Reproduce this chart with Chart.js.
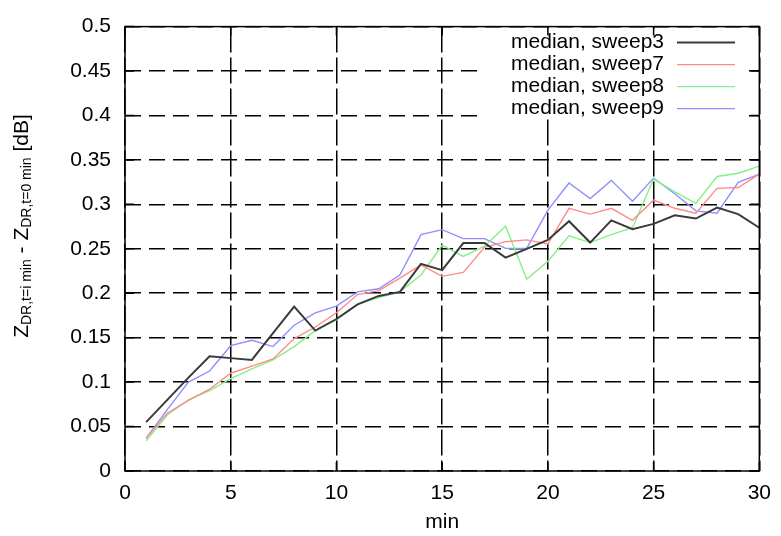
<!DOCTYPE html>
<html>
<head>
<meta charset="utf-8">
<script src="https://cdn.jsdelivr.net/npm/chart.js@4/dist/chart.umd.min.js"></script>
<style>
  html, body { margin: 0; padding: 0; background: #fff; }
  #wrap { width: 781px; height: 536px; }
</style>
</head>
<body>
<div id="wrap"><canvas id="c" width="781" height="536"></canvas></div>
<script>
// Minutes after the reference time
const minutes = [1,2,3,4,5,6,7,8,9,10,11,12,13,14,15,16,17,18,19,20,21,22,23,24,25,26,27,28,29,30];

// Median ZDR change per sweep (dB)
const sweep3 = [0.055,0.080,0.105,0.129,0.127,0.125,0.155,0.185,0.158,0.171,0.1875,0.197,0.2015,0.233,0.226,0.2565,0.2565,0.240,0.250,0.260,0.281,0.257,0.282,0.272,0.278,0.2876,0.284,0.2964,0.289,0.2737];
const sweep7 = [0.037,0.065,0.0795,0.092,0.110,0.118,0.126,0.149,0.162,0.178,0.1985,0.203,0.217,0.232,0.219,0.2235,0.2517,0.258,0.260,0.2555,0.2956,0.289,0.2956,0.282,0.3047,0.2956,0.290,0.318,0.319,0.334];
const sweep8 = [0.034,0.063,0.080,0.0905,0.104,0.115,0.125,0.140,0.158,0.170,0.1875,0.195,0.2015,0.2205,0.254,0.2415,0.253,0.2755,0.216,0.236,0.2646,0.257,0.266,0.2737,0.3285,0.314,0.301,0.3314,0.335,0.343];
const sweep9 = [0.037,0.069,0.100,0.1125,0.141,0.147,0.140,0.164,0.178,0.1855,0.2015,0.205,0.2205,0.266,0.2715,0.2615,0.2615,0.2505,0.2505,0.2935,0.324,0.3066,0.327,0.3036,0.3295,0.312,0.2927,0.290,0.3248,0.334];

const seriesNames = ['median, sweep3','median, sweep7','median, sweep8','median, sweep9'];

// Axis ticks
const xTicks = [0,5,10,15,20,25,30];
const yTicks = [0,0.05,0.1,0.15,0.2,0.25,0.3,0.35,0.4,0.45,0.5];

const FONT = '"Liberation Sans", Arial, sans-serif';
const FS = 21;
const colors = ['#3a3a3a', '#ff8a8a', '#88ee88', '#8f8fff'];
const widths = [2, 1.4, 1.4, 1.4];

const toPoints = arr => minutes.map((m, i) => ({ x: m, y: arr[i] }));

// Frame, inward ticks, in-plot key and rotated y title with subscripts
const framePlugin = {
  id: 'frame',
  beforeDatasetsDraw(chart) {
    const { ctx, chartArea: a, scales } = chart;
    ctx.save();
    // key background hides the grid behind it
    const keyRight = a.right - 16;
    ctx.fillStyle = '#fff';
    ctx.fillRect(483, a.top + 2, keyRight - 483, 90);
    // inward tick marks on all four sides
    ctx.strokeStyle = '#000';
    ctx.lineWidth = 1.5;
    ctx.beginPath();
    xTicks.forEach(v => {
      const px = scales.x.getPixelForValue(v);
      ctx.moveTo(px, a.top); ctx.lineTo(px, a.top + 9);
      ctx.moveTo(px, a.bottom); ctx.lineTo(px, a.bottom - 9);
    });
    yTicks.forEach(v => {
      const py = scales.y.getPixelForValue(v);
      ctx.moveTo(a.left, py); ctx.lineTo(a.left + 9, py);
      ctx.moveTo(a.right, py); ctx.lineTo(a.right - 9, py);
    });
    ctx.stroke();
    // key entries: text right-aligned, line sample on the right
    ctx.font = FS + 'px ' + FONT;
    ctx.textAlign = 'right';
    ctx.textBaseline = 'middle';
    seriesNames.forEach((name, i) => {
      const y = a.top + 16 + i * 22;
      ctx.fillStyle = '#000';
      ctx.fillText(name, 664, y);
      ctx.strokeStyle = colors[i];
      ctx.lineWidth = widths[i];
      ctx.beginPath();
      ctx.moveTo(677, y); ctx.lineTo(735, y);
      ctx.stroke();
    });
    ctx.restore();
  },
  afterDraw(chart) {
    const { ctx, chartArea: a } = chart;
    ctx.save();
    ctx.strokeStyle = '#000';
    ctx.lineWidth = 1.5;
    ctx.strokeRect(a.left, a.top, a.right - a.left, a.bottom - a.top);
    // x title
    ctx.fillStyle = '#000';
    ctx.font = FS + 'px ' + FONT;
    ctx.textAlign = 'center';
    ctx.textBaseline = 'middle';
    ctx.fillText('min', (a.left + a.right) / 2, 522);
    // y title with subscripts, rotated
    const parts = [
      ['Z', FS, 0], ['DR,t=i min', 14, 5], [' - Z', FS, 0], ['DR,t=0 min', 14, 5], [' [dB]', FS, 0]
    ];
    let total = 0;
    parts.forEach(p => { ctx.font = p[1] + 'px ' + FONT; total += ctx.measureText(p[0]).width; });
    ctx.translate(22, 226);
    ctx.rotate(-Math.PI / 2);
    ctx.textAlign = 'left';
    let x = -total / 2;
    parts.forEach(p => {
      ctx.font = p[1] + 'px ' + FONT;
      ctx.fillText(p[0], x, p[2]);
      x += ctx.measureText(p[0]).width;
    });
    ctx.restore();
  }
};

new Chart(document.getElementById('c'), {
  type: 'line',
  data: {
    datasets: [sweep3, sweep7, sweep8, sweep9].map((arr, i) => ({
      label: seriesNames[i],
      data: toPoints(arr),
      borderColor: colors[i],
      borderWidth: widths[i],
      pointRadius: 0,
      tension: 0,
      fill: false
    }))
  },
  options: {
    responsive: false,
    animation: false,
    devicePixelRatio: 1,
    layout: { padding: { left: 0, right: 19, top: 16, bottom: 0 } },
    plugins: { legend: { display: false }, tooltip: { enabled: false } },
    scales: {
      x: {
        type: 'linear',
        min: 0, max: 30,
        afterBuildTicks: s => { s.ticks = xTicks.map(v => ({ value: v })); },
        afterFit: s => { s.height = 65; },
        ticks: { color: '#000', font: { family: FONT, size: FS }, padding: 10, maxRotation: 0,
                 callback: v => String(Math.round(v)) },
        grid: { color: '#000', lineWidth: 1.5, drawTicks: false },
        border: { display: false, dash: [26, 5] }
      },
      y: {
        type: 'linear',
        min: 0, max: 0.5,
        afterBuildTicks: s => { s.ticks = yTicks.map(v => ({ value: v })); },
        afterFit: s => { s.width = 125; },
        ticks: { color: '#000', font: { family: FONT, size: FS }, padding: 14,
                 callback: v => String(Math.round(v * 100) / 100) },
        grid: { color: '#000', lineWidth: 1.5, drawTicks: false },
        border: { display: false, dash: [16, 8] }
      }
    }
  },
  plugins: [framePlugin]
});
</script>
</body>
</html>
